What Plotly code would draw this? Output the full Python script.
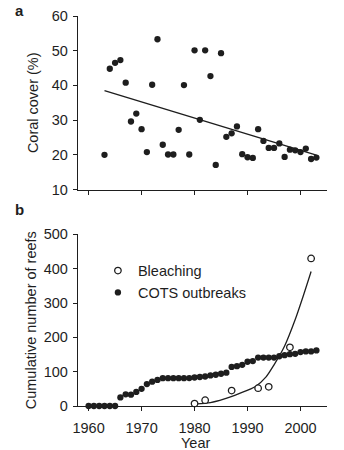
import plotly.graph_objects as go

# ---- Panel a: coral cover ----
years_a = list(range(1963, 2004))
coral_cover = [20.0, 44.8, 46.5, 47.3, 40.8, 29.6, 31.9, 27.4, 20.8, 40.2,
               53.3, 22.9, 20.1, 20.1, 27.2, 40.1, 20.1, 50.1, 30.1, 50.1,
               42.7, 17.1, 49.3, 25.2, 26.2, 28.2, 20.2, 19.3, 19.1, 27.4,
               24.0, 22.0, 22.0, 23.3, 19.4, 21.5, 21.3, 20.8, 21.8, 18.8, 19.2]
trend_years = [1963, 2003]
trend_values = [38.5, 19.9]

# ---- Panel b: cumulative number of reefs ----
cots_years = list(range(1960, 2004))
cots_values = [0, 0, 0, 0, 0, 0,
               25, 34, 33, 41, 50,
               64, 71, 76, 81, 81,
               81, 81, 81, 81.5, 83,
               84.5, 86, 89, 91, 94,
               97, 114, 116, 120, 129,
               131, 141, 141, 141, 141,
               145, 148, 151, 152, 157,
               159, 159, 162]
bleach_years = [1980, 1982, 1987, 1992, 1994, 1998, 2002]
bleach_values = [7, 17, 45, 52, 56, 171, 430]
curve_years = [1980.3, 1983, 1985.5, 1988.5, 1991.5, 1993.5, 1995, 1997, 1999, 2000.5, 2002]
curve_values = [6, 10, 20, 37, 57, 85, 120, 175, 252, 320, 392]

year_ticks = [1960, 1970, 1980, 1990, 2000]
cover_ticks = [10, 20, 30, 40, 50, 60]
reef_ticks = [0, 100, 200, 300, 400, 500]

INK = "#1e1e1e"
FONT = "Liberation Sans, Arial, Helvetica, sans-serif"
FS = 14.5

fig = go.Figure()
fig.add_trace(go.Scatter(x=years_a, y=coral_cover, mode="markers",
                         marker=dict(color=INK, size=6.3), xaxis="x", yaxis="y",
                         showlegend=False, cliponaxis=False))
fig.add_trace(go.Scatter(x=trend_years, y=trend_values, mode="lines",
                         line=dict(color=INK, width=1.4), xaxis="x", yaxis="y",
                         showlegend=False))

fig.add_trace(go.Scatter(x=curve_years, y=curve_values, mode="lines",
                         line=dict(color=INK, width=1.3, shape="spline", smoothing=0.8),
                         xaxis="x2", yaxis="y2", showlegend=False))
fig.add_trace(go.Scatter(x=cots_years, y=cots_values, mode="markers", name="COTS outbreaks",
                         marker=dict(color=INK, size=6.3), xaxis="x2", yaxis="y2",
                         cliponaxis=False, legendrank=2))
fig.add_trace(go.Scatter(x=bleach_years, y=bleach_values, mode="markers", name="Bleaching",
                         marker=dict(color="white", size=6.5, line=dict(color=INK, width=1.3)),
                         xaxis="x2", yaxis="y2", cliponaxis=False, legendrank=1))

axis_common = dict(showline=True, linecolor=INK, linewidth=1.3, ticks="outside",
                   ticklen=4, tickwidth=1.3, tickcolor=INK, showgrid=False,
                   zeroline=False, automargin=False,
                   tickfont=dict(size=FS, color=INK, family=FONT))

fig.update_layout(
    width=344, height=450,
    margin=dict(l=78, r=17, t=16, b=44),
    paper_bgcolor="white", plot_bgcolor="white",
    font=dict(family=FONT, color=INK, size=FS),
    xaxis=dict(domain=[0, 1], range=[1958, 2005], anchor="y", tickvals=year_ticks,
               showticklabels=False, **axis_common),
    yaxis=dict(domain=[0.555, 1], range=[10, 60], anchor="x", tickvals=cover_ticks,
               ticklabelstandoff=2,
               title=dict(text="Coral cover (%)", standoff=9, font=dict(size=FS)),
               **axis_common),
    xaxis2=dict(domain=[0, 1], range=[1958, 2005], anchor="y2", tickvals=year_ticks,
                ticklabelstandoff=4, **axis_common),
    yaxis2=dict(domain=[0, 0.44], range=[0, 500], anchor="x2", tickvals=reef_ticks,
                ticklabelstandoff=2,
                title=dict(text="Cumulative number of reefs", standoff=3, font=dict(size=FS)),
                **axis_common),
    legend=dict(x=0.08, y=0.388, xanchor="left", yanchor="top",
                bgcolor="rgba(0,0,0,0)", font=dict(size=FS, color=INK, family=FONT),
                tracegroupgap=0, itemwidth=30),
    annotations=[
        dict(text="<b>a</b>", xref="paper", yref="paper", x=-0.233, y=1.015,
             xanchor="center", yanchor="middle",
             showarrow=False, font=dict(size=15, color=INK)),
        dict(text="<b>b</b>", xref="paper", yref="paper", x=-0.233, y=0.503,
             xanchor="center", yanchor="middle",
             showarrow=False, font=dict(size=15, color=INK)),
        dict(text="Year", xref="paper", yref="paper", x=0.47, y=-0.096,
             xanchor="center", yanchor="middle",
             showarrow=False, font=dict(size=FS, color=INK, family=FONT)),
    ],
)

fig.write_html("out.html")
